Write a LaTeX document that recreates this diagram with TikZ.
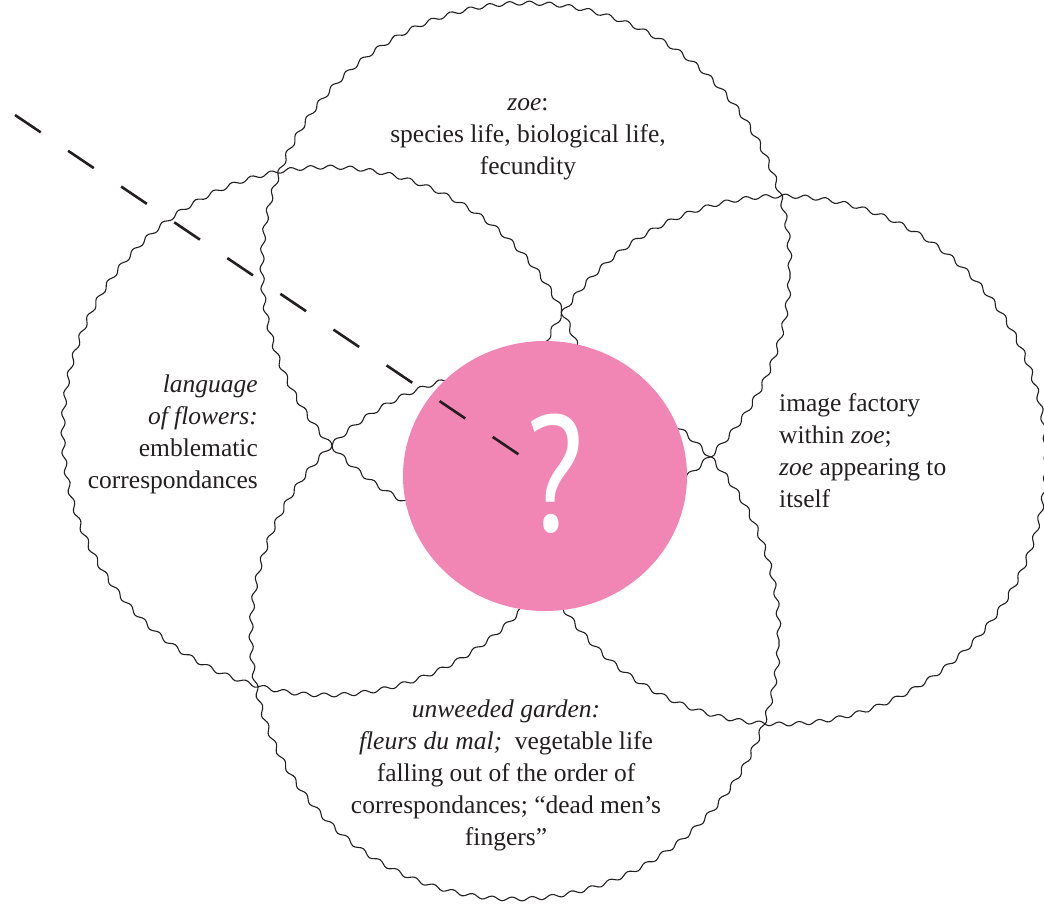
\documentclass[tikz,border=0pt]{standalone}
\usepackage{fontspec}
\setmainfont{Liberation Serif}
\newfontfamily\qfont{PT Sans}
\usetikzlibrary{decorations.pathmorphing}
\definecolor{petalpink}{RGB}{241,133,179}
\definecolor{inkgray}{RGB}{35,31,32}
\begin{document}
\begin{tikzpicture}[x=1pt,y=-1pt,
  wavy/.style={draw=inkgray, line width=1.1pt, decorate,
    decoration={snake, segment length=20pt, amplitude=2pt}},
  txt/.style={font=\fontsize{25.5}{32}\selectfont, text=inkgray, inner sep=0pt},
  dashline/.style={draw=inkgray, line width=2.6pt, dash pattern=on 31pt off 33pt},
]
\useasboundingbox (0,0) rectangle (1044,903);
% circle centres
\coordinate (ctop) at (526,272);
\coordinate (cleft) at (327,436);
\coordinate (cright) at (782,465);
\coordinate (cbottom) at (515,640);
\draw[wavy] (ctop) circle[radius=264pt];
\draw[wavy] (cleft) circle[radius=264pt];
\draw[wavy] (cright) circle[radius=264pt];
\draw[wavy] (cbottom) circle[radius=264pt];
% pink centre
\coordinate (cpink) at (545,476);
\fill[petalpink] (cpink) ellipse[x radius=142pt, y radius=135pt];
% dashed line
\coordinate (dstart) at (15,115);
\coordinate (dend) at (521,456);
\draw[dashline] (dstart) -- (dend);
% question mark
\node[inner sep=0pt, text=white, xscale=0.8, font=\qfont\fontsize{165}{165}\selectfont] (qmark) at (555,474) {?};
% texts
\node[txt, align=center] (ttop) at (528,139) {\textit{zoe}:\\species life, biological life,\\fecundity};
\node[txt, align=right, anchor=east] (tleft) at (258,434) {\textit{language}\\\textit{of flowers:}\\emblematic\\correspondances};
\node[txt, align=left, anchor=west] (tright) at (779,451) {image factory\\within \textit{zoe};\\\textit{zoe} appearing to\\itself};
\node[txt, align=center] (tbottom) at (506,775) {\textit{unweeded garden:}\\\textit{fleurs du mal;}\ \ vegetable life\\falling out of the order of\\correspondances; “dead men’s\\fingers”};
\end{tikzpicture}
\end{document}
